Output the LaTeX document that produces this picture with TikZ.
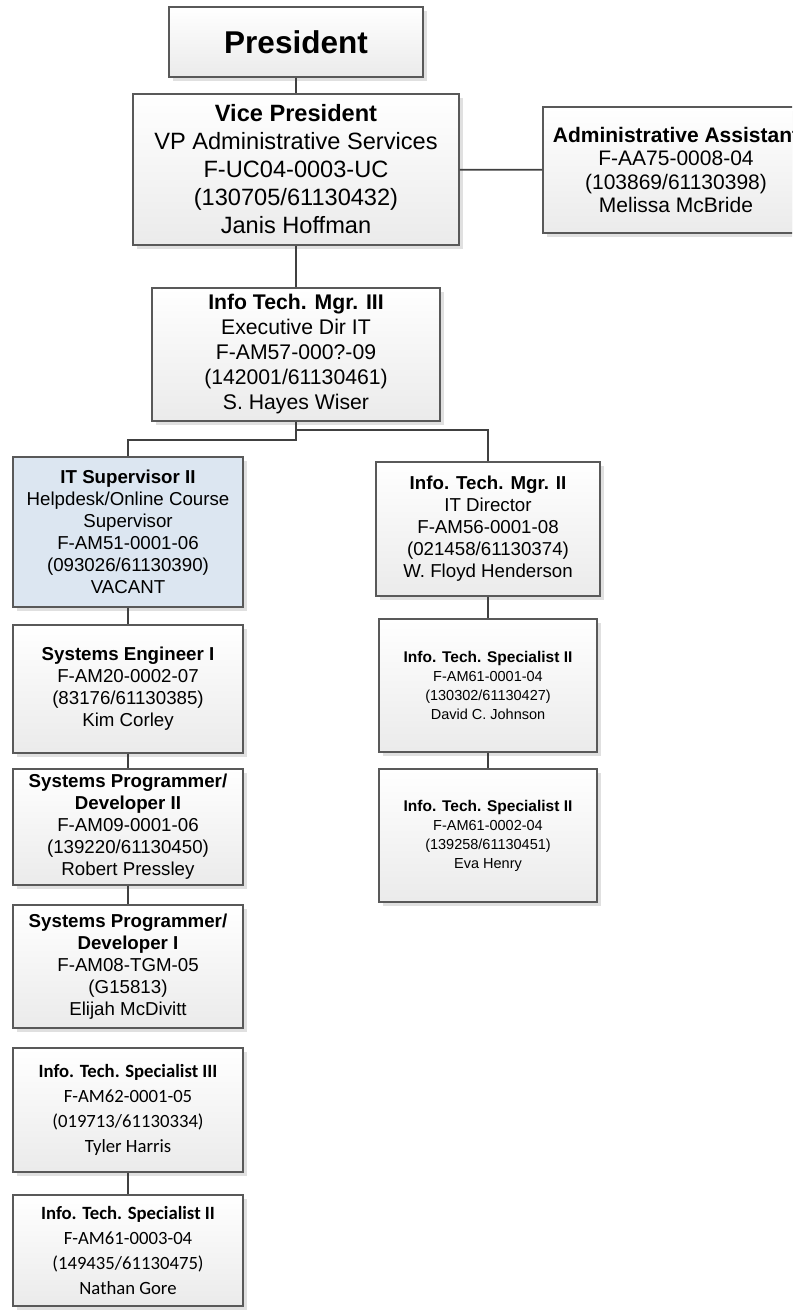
\documentclass[tikz,border=0pt]{standalone}
\usepackage{fontspec}
\setmainfont{Liberation Sans}
\newfontfamily\calibri{Carlito}
\usetikzlibrary{shadows}

\begin{document}
\begin{tikzpicture}[x=1pt,y=-1pt]

\useasboundingbox (0,0) rectangle (792,1311);
\clip (0,0) rectangle (792,1311);

% \draw[help lines, step=50] (0,0) grid (792,1311);

\tikzstyle{obox}=[draw=black!65, line width=1.2pt, shape=rectangle, inner sep=0pt,
align=center, top color=white, bottom color=black!8,
drop shadow={shadow xshift=4pt, shadow yshift=-4pt, fill=black!12, opacity=1}];
\tikzstyle{pbox}=[obox, font=\fontsize{31.5}{36}\selectfont\bfseries];
\tikzstyle{vbox}=[obox, font=\fontsize{23.6}{28}\selectfont];
\tikzstyle{abox}=[obox, font=\fontsize{21}{23.5}\selectfont];
\tikzstyle{mbox}=[obox, font=\fontsize{21.2}{25}\selectfont];
\tikzstyle{sbox}=[obox, font=\fontsize{18.7}{22}\selectfont];
\tikzstyle{tbox}=[obox, font=\fontsize{14.5}{19}\selectfont];
\tikzstyle{cbox}=[obox, font=\calibri\fontsize{18.7}{25}\selectfont];
\tikzstyle{link}=[draw=black!75, line width=1.8pt];

\definecolor{vacantblue}{RGB}{220,230,241}
\newcommand{\spectitle}{\textbf{\fontsize{15.5}{19}\selectfont Info. Tech. Specialist II}}

\node[pbox, minimum width=254, minimum height=70] (pres) at (296,42) {President};
\node[vbox, minimum width=326, minimum height=151] (vp) at (296,169.5) {\textbf{Vice President}\\VP Administrative Services\\F-UC04-0003-UC\\(130705/61130432)\\Janis Hoffman};
\node[abox, minimum width=266, minimum height=126] (admin) at (676,170) {\textbf{Administrative Assistant}\\F-AA75-0008-04\\(103869/61130398)\\Melissa McBride};
\node[mbox, minimum width=288, minimum height=133] (itm3) at (296,354.5) {\textbf{Info Tech. Mgr. III}\\Executive Dir IT\\F-AM57-000?-09\\(142001/61130461)\\S. Hayes Wiser};

\node[sbox, top color=vacantblue, bottom color=vacantblue, minimum width=230, minimum height=150] (itsup) at (128,532) {\textbf{IT Supervisor II}\\Helpdesk/Online Course\\Supervisor\\F-AM51-0001-06\\(093026/61130390)\\VACANT};
\node[sbox, minimum width=230, minimum height=128] (syseng) at (128,689) {\textbf{Systems Engineer I}\\F-AM20-0002-07\\(83176/61130385)\\Kim Corley};
\node[sbox, minimum width=230, minimum height=116] (sprog2) at (128,827) {\textbf{Systems Programmer/}\\\textbf{Developer II}\\F-AM09-0001-06\\(139220/61130450)\\Robert Pressley};
\node[sbox, minimum width=230, minimum height=123] (sprog1) at (128,966.5) {\textbf{Systems Programmer/}\\\textbf{Developer I}\\F-AM08-TGM-05\\(G15813)\\Elijah McDivitt};
\node[cbox, minimum width=230, minimum height=124] (spec3) at (128,1110) {\textbf{Info. Tech. Specialist III}\\F-AM62-0001-05\\(019713/61130334)\\Tyler Harris};
\node[cbox, minimum width=230, minimum height=111] (spec2c) at (128,1250.5) {\textbf{Info. Tech. Specialist II}\\F-AM61-0003-04\\(149435/61130475)\\Nathan Gore};

\node[sbox, minimum width=224, minimum height=134] (itm2) at (488,529) {\textbf{Info. Tech. Mgr. II}\\IT Director\\F-AM56-0001-08\\(021458/61130374)\\W. Floyd Henderson};
\node[tbox, minimum width=218, minimum height=133] (spec2a) at (488,685.5) {\spectitle\\F-AM61-0001-04\\(130302/61130427)\\David C. Johnson};
\node[tbox, minimum width=218, minimum height=133] (spec2b) at (488,835.5) {\spectitle\\F-AM61-0002-04\\(139258/61130451)\\Eva Henry};

\coordinate (busr) at (296,430);
\coordinate (busl) at (296,440);

% lines
\draw[link] (pres) -- (vp);
\draw[link] (vp) -- (admin);
\draw[link] (vp) -- (itm3);
\draw[link] (itm3.south) -- (busr) -| (itm2.north);
\draw[link] (itm3.south) -- (busl) -| (itsup.north);
\draw[link] (itsup) -- (syseng);
\draw[link] (syseng) -- (sprog2);
\draw[link] (sprog2) -- (sprog1);
\draw[link] (spec3) -- (spec2c);
\draw[link] (itm2) -- (spec2a);
\draw[link] (spec2a) -- (spec2b);

\end{tikzpicture}
\end{document}
